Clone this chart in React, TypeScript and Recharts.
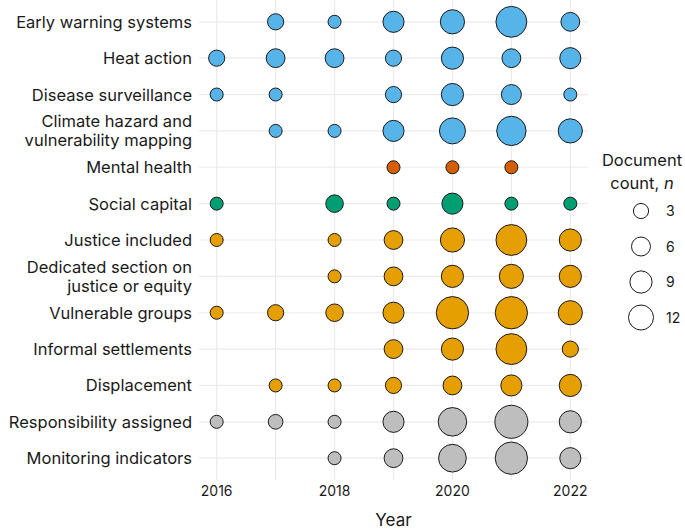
import React from "react";
import { ScatterChart, Scatter, XAxis, YAxis, ZAxis, ReferenceLine } from "recharts";

const years = [2016, 2017, 2018, 2019, 2020, 2021, 2022];
const yearTicks = [2016, 2018, 2020, 2022];

const categories = [
  "Early warning systems",
  "Heat action",
  "Disease surveillance",
  "Climate hazard and\nvulnerability mapping",
  "Mental health",
  "Social capital",
  "Justice included",
  "Dedicated section on\njustice or equity",
  "Vulnerable groups",
  "Informal settlements",
  "Displacement",
  "Responsibility assigned",
  "Monitoring indicators",
];

// document counts per year (2016..2022), null = no documents
const earlyWarning = [null, 3, 1, 7, 10, 18, 5];
const heatAction = [3, 5, 5, 3, 8, 5, 7];
const diseaseSurveillance = [1, 1, null, 3, 8, 6, 1];
const climateHazard = [null, 1, 1, 7, 12, 16, 10];
const mentalHealth = [null, null, null, 1, 1, 1, null];
const socialCapital = [1, null, 4, 1, 7, 1, 1];
const justiceIncluded = [1, null, 1, 5, 10, 18, 8];
const dedicatedSection = [null, null, 1, 5, 8, 10, 8];
const vulnerableGroups = [1, 3, 4, 7, 20, 20, 10];
const informalSettlements = [null, null, null, 5, 8, 18, 3];
const displacement = [null, 1, 1, 3, 5, 7, 8];
const responsibility = [1, 2, 1, 7, 15, 21, 8];
const monitoring = [null, null, 1, 5, 14, 20, 7];

const counts = [
  earlyWarning, heatAction, diseaseSurveillance, climateHazard, mentalHealth,
  socialCapital, justiceIncluded, dedicatedSection, vulnerableGroups,
  informalSettlements, displacement, responsibility, monitoring,
];

const groupColors = ["#56B4E9", "#D55E00", "#009E73", "#E69F00", "#BEBEBE"];
const categoryGroup = [0, 0, 0, 0, 1, 2, 3, 3, 3, 3, 3, 4, 4];
const legendBreaks = [3, 6, 9, 12];

const sizeDomain = [0, 22];
const sizeRange = [97, 893];

const points = counts.flatMap((row, i) =>
  row.map((n, j) => (n == null ? null : { year: years[j], row: i, n, group: categoryGroup[i] })).filter(Boolean)
) as { year: number; row: number; n: number; group: number }[];

const font = "Inter, 'Noto Sans', sans-serif";
const ink = "#1a1a1a";

const CategoryTick = (props: any) => {
  const { x, y, payload } = props;
  const lines = categories[payload.value].split("\n");
  return (
    <text x={x} y={y} textAnchor="end" fontSize={16.5} fill={ink} fontFamily={font}>
      {lines.map((l, k) => (
        <tspan key={k} x={x} y={y + (k - (lines.length - 1) / 2) * 19 + 6}>
          {l}
        </tspan>
      ))}
    </text>
  );
};

const legendDiameter = (n: number) => {
  const area = sizeRange[0] + ((sizeRange[1] - sizeRange[0]) * (n - sizeDomain[0])) / (sizeDomain[1] - sizeDomain[0]);
  return 2 * Math.sqrt(area / Math.PI);
};

function SizeLegend() {
  return (
    <svg width={95} height={200} style={{ position: "absolute", left: 590, top: 145 }}>
      <text x={52} y={21} textAnchor="middle" fontSize={16.5} fill={ink} fontFamily={font}>Document</text>
      <text x={52} y={44} textAnchor="middle" fontSize={16.5} fill={ink} fontFamily={font}>
        count, <tspan fontStyle="italic">n</tspan>
      </text>
      {legendBreaks.map((b, i) => (
        <g key={b}>
          <circle cx={51} cy={66 + i * 35.5} r={legendDiameter(b) / 2 - 0.5} fill="#fff" stroke={ink} strokeWidth={1} />
          <text x={76} y={71 + i * 35.5} fontSize={14} fill={ink} fontFamily={font}>{b}</text>
        </g>
      ))}
    </svg>
  );
}

export default function App() {
  return (
    <div style={{ position: "absolute", left: 0, top: 0, width: 685, height: 530, background: "#fff" }}>
      <ScatterChart width={685} height={530} margin={{ top: 0, right: 97, bottom: 0, left: 0 }}>
        {years.map((yr) => (
          <ReferenceLine key={"x" + yr} x={yr} stroke="#EBEBEB" strokeWidth={1.2} />
        ))}
        {categories.map((_, i) => (
          <ReferenceLine key={"y" + i} y={i} stroke="#EBEBEB" strokeWidth={1.2} />
        ))}
        <XAxis
          type="number"
          dataKey="year"
          domain={[2015.7, 2022.3]}
          ticks={yearTicks}
          axisLine={false}
          tickLine={false}
          tickSize={0}
          tickMargin={6}
          height={50}
          tick={{ fontSize: 14, fill: ink, fontFamily: font }}
          label={{ value: "Year", position: "insideBottom", offset: 4, fontSize: 17, fill: ink, fontFamily: font }}
        />
        <YAxis
          type="number"
          dataKey="row"
          domain={[-0.6, 12.6]}
          reversed
          ticks={categories.map((_, i) => i)}
          interval={0}
          width={199}
          axisLine={false}
          tickLine={false}
          tickSize={0}
          tickMargin={7}
          tick={<CategoryTick />}
        />
        <ZAxis type="number" dataKey="n" domain={sizeDomain} range={sizeRange} />
        {groupColors.map((c, g) => (
          <Scatter
            key={g}
            data={points.filter((p) => p.group === g)}
            fill={c}
            stroke={ink}
            strokeWidth={1}
            isAnimationActive={false}
          />
        ))}
      </ScatterChart>
      <SizeLegend />
    </div>
  );
}
